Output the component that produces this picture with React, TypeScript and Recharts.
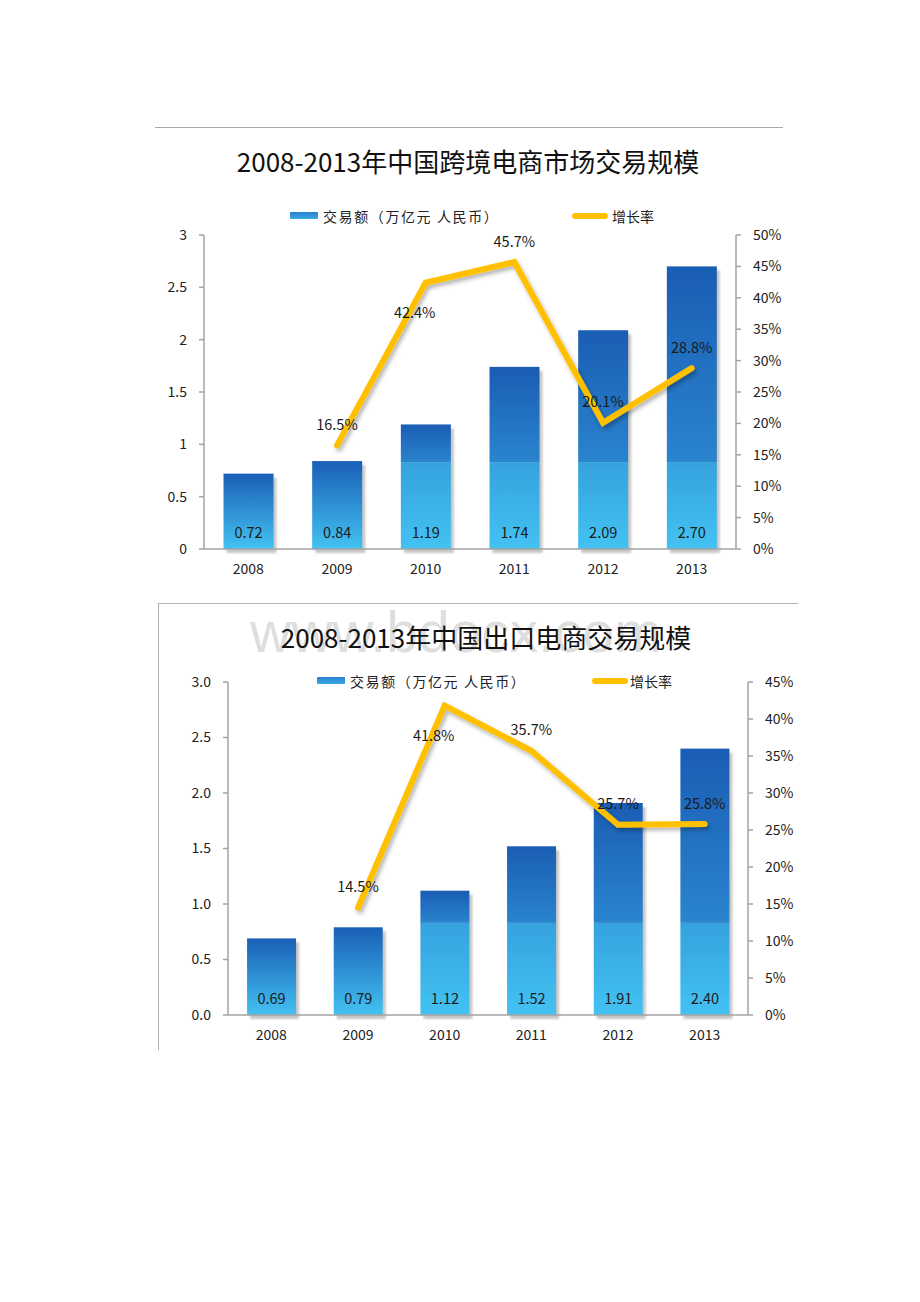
import { ComposedChart, Bar, Line, XAxis, YAxis, LabelList } from "recharts";

const FONT = '"Noto Sans CJK SC", "Noto Sans", sans-serif';
const AXIS_GRAY = "#a3a3a3";
const LINE_YELLOW = "#FFC000";

// shared categories
const years = ["2008", "2009", "2010", "2011", "2012", "2013"];

// chart 1: cross-border e-commerce
const crossBorderAmount = [0.72, 0.84, 1.19, 1.74, 2.09, 2.7];
const crossBorderRate = [null, 16.5, 42.4, 45.7, 20.1, 28.8];
const crossBorderAmountTicks = [0, 0.5, 1, 1.5, 2, 2.5, 3];
const crossBorderRateTicks = [0, 5, 10, 15, 20, 25, 30, 35, 40, 45, 50];

// chart 2: export e-commerce
const exportAmount = [0.69, 0.79, 1.12, 1.52, 1.91, 2.4];
const exportRate = [null, 14.5, 41.8, 35.7, 25.7, 25.8];
const exportAmountTicks = [0, 0.5, 1, 1.5, 2, 2.5, 3];
const exportRateTicks = [0, 5, 10, 15, 20, 25, 30, 35, 40, 45];

const amountLegend = "交易额（万亿元 人民币）";
const rateLegend = "增长率";

// excel picture fill leaves a seam at this height on the taller bars
const BAR_SEAM = 0.83;

function buildRows(amount: number[], rate: (number | null)[]) {
  return years.map((year, i) => ({ year, amount: amount[i], rate: rate[i] }));
}

function GlassBar(props: any) {
  const { x, y, width, height, payload, uid } = props;
  if (!height || height <= 0) return null;
  const base = y + height;
  const pxPerUnit = height / payload.amount;
  const seamY = base - BAR_SEAM * pxPerUnit;
  const split = payload.amount > BAR_SEAM + 0.03;
  return (
    <g>
      <rect
        x={x + 3}
        y={y + 4}
        width={width}
        height={height}
        fill="#000"
        opacity={0.22}
        filter={`url(#${uid}-barShadow)`}
      />
      {split ? (
        <>
          <rect x={x} y={y} width={width} height={seamY - y} fill={`url(#${uid}-barTop)`} />
          <rect x={x} y={seamY} width={width} height={base - seamY} fill={`url(#${uid}-barLow)`} />
        </>
      ) : (
        <rect x={x} y={y} width={width} height={height} fill={`url(#${uid}-barFull)`} />
      )}
    </g>
  );
}

function AmountLabel(props: any) {
  const { x, y, width, height, value } = props;
  if (value == null) return null;
  return (
    <text
      x={x + width / 2}
      y={y + height - 18}
      textAnchor="middle"
      dominantBaseline="central"
      fontSize={14.5}
      fill="#1a1a1a"
      fontFamily={FONT}
    >
      {Number(value).toFixed(2)}
    </text>
  );
}

function makeRateLabel(belowIndex: number) {
  return (props: any) => {
    const { x, y, value, index } = props;
    if (value == null) return null;
    const below = index === belowIndex;
    return (
      <text
        x={below ? x - 11 : x}
        y={below ? y + 29 : y - 22}
        textAnchor="middle"
        dominantBaseline="central"
        fontSize={14.5}
        fill="#1a1a1a"
        fontFamily={FONT}
      >
        {value}%
      </text>
    );
  };
}

interface PanelProps {
  uid: string;
  rows: any[];
  left: number;
  top: number;
  width: number;
  height: number;
  marginTop: number;
  leftAxisWidth: number;
  rightAxisWidth: number;
  amountTicks: number[];
  rateTicks: number[];
  amountFmt: (v: number) => string;
  labelBelowIndex: number;
}

function Panel({
  uid,
  rows,
  left,
  top,
  width,
  height,
  marginTop,
  leftAxisWidth,
  rightAxisWidth,
  amountTicks,
  rateTicks,
  amountFmt,
  labelBelowIndex,
}: PanelProps) {
  const tickStyle = { fill: "#222", fontSize: 14, fontFamily: FONT };
  return (
    <div style={{ position: "absolute", left, top }}>
      <ComposedChart
        width={width}
        height={height}
        data={rows}
        margin={{ top: marginTop, right: 0, bottom: 0, left: 0 }}
        barCategoryGap="22%"
        style={{ fontFamily: FONT }}
      >
        <defs>
          <linearGradient id={`${uid}-barFull`} x1="0" y1="0" x2="0" y2="1">
            <stop offset="0%" stopColor="#1a5fb6" />
            <stop offset="100%" stopColor="#43c2f2" />
          </linearGradient>
          <linearGradient id={`${uid}-barTop`} x1="0" y1="0" x2="0" y2="1">
            <stop offset="0%" stopColor="#1a5db4" />
            <stop offset="100%" stopColor="#2a84ce" />
          </linearGradient>
          <linearGradient id={`${uid}-barLow`} x1="0" y1="0" x2="0" y2="1">
            <stop offset="0%" stopColor="#35a2de" />
            <stop offset="100%" stopColor="#43c2f2" />
          </linearGradient>
          <filter id={`${uid}-barShadow`} x="-20%" y="-20%" width="140%" height="140%">
            <feGaussianBlur stdDeviation="1.2" />
          </filter>
          <filter id={`${uid}-lineShadow`} x="-10%" y="-10%" width="130%" height="130%">
            <feDropShadow dx="2" dy="3" stdDeviation="2" floodColor="#000" floodOpacity="0.3" />
          </filter>
        </defs>

        <XAxis
          dataKey="year"
          xAxisId={0}
          height={30}
          tickLine={false}
          tickSize={0}
          tickMargin={15}
          axisLine={{ stroke: AXIS_GRAY, strokeWidth: 1.5 }}
          tick={tickStyle}
        />
        <YAxis
          yAxisId="amount"
          width={leftAxisWidth}
          domain={[amountTicks[0], amountTicks[amountTicks.length - 1]]}
          ticks={amountTicks}
          interval={0}
          tickFormatter={amountFmt}
          tickSize={5}
          tickMargin={12}
          axisLine={{ stroke: AXIS_GRAY, strokeWidth: 1.5 }}
          tickLine={{ stroke: AXIS_GRAY, strokeWidth: 1.5 }}
          tick={tickStyle}
        />
        <YAxis
          yAxisId="rate"
          orientation="right"
          width={rightAxisWidth}
          domain={[rateTicks[0], rateTicks[rateTicks.length - 1]]}
          ticks={rateTicks}
          interval={0}
          tickFormatter={(v: number) => `${v}%`}
          tickSize={5}
          tickMargin={12}
          axisLine={{ stroke: AXIS_GRAY, strokeWidth: 1.5 }}
          tickLine={{ stroke: AXIS_GRAY, strokeWidth: 1.5 }}
          tick={{ ...tickStyle, textAnchor: "start" }}
        />

        <Bar
          yAxisId="amount"
          dataKey="amount"
          isAnimationActive={false}
          shape={(p: any) => <GlassBar {...p} uid={uid} />}
        >
          <LabelList dataKey="amount" content={AmountLabel} />
        </Bar>
        <Line
          yAxisId="rate"
          dataKey="rate"
          type="linear"
          stroke={LINE_YELLOW}
          strokeWidth={6}
          strokeLinecap="round"
          dot={false}
          activeDot={false}
          isAnimationActive={false}
          filter={`url(#${uid}-lineShadow)`}
        >
          <LabelList dataKey="rate" content={makeRateLabel(labelBelowIndex)} />
        </Line>
      </ComposedChart>
    </div>
  );
}

function Title({ text, cx, cy }: { text: string; cx: number; cy: number }) {
  return (
    <div
      style={{
        position: "absolute",
        left: cx - 320,
        top: cy - 20,
        width: 640,
        lineHeight: "40px",
        textAlign: "center",
        fontSize: 26,
        color: "#111",
        fontFamily: FONT,
        whiteSpace: "nowrap",
      }}
    >
      {text}
    </div>
  );
}

function LegendRow({ cy, blueX, blueTextX, yellowX, yellowTextX }: any) {
  const text = {
    position: "absolute" as const,
    top: cy - 10,
    lineHeight: "20px",
    fontSize: 14,
    color: "#222",
    fontFamily: FONT,
    whiteSpace: "nowrap" as const,
  };
  return (
    <>
      <div
        style={{
          position: "absolute",
          left: blueX,
          top: cy - 4,
          width: 28,
          height: 7,
          background: "linear-gradient(#2a7fd0, #3aa9e6)",
          borderRadius: 1,
        }}
      />
      <div style={{ ...text, left: blueTextX, letterSpacing: 1.6 }}>{amountLegend}</div>
      <div
        style={{
          position: "absolute",
          left: yellowX,
          top: cy - 3,
          width: 36,
          height: 6,
          background: LINE_YELLOW,
          borderRadius: 3,
        }}
      />
      <div style={{ ...text, left: yellowTextX }}>{rateLegend}</div>
    </>
  );
}

export default function App() {
  const fmtPlain = (v: number) => String(v);
  const fmtOne = (v: number) => v.toFixed(1);
  return (
    <div
      style={{
        position: "absolute",
        left: 0,
        top: 0,
        width: 920,
        height: 1302,
        background: "#fff",
        overflow: "hidden",
      }}
    >
      {/* chart 1 */}
      <div style={{ position: "absolute", left: 155, top: 127, width: 628, borderTop: "1.5px solid #a8a8a8" }} />
      <Title text="2008-2013年中国跨境电商市场交易规模" cx={468} cy={161} />
      <LegendRow cy={216} blueX={290} blueTextX={323} yellowX={572} yellowTextX={612} />
      <Panel
        uid="c1"
        rows={buildRows(crossBorderAmount, crossBorderRate)}
        left={155}
        top={190}
        width={630}
        height={389}
        marginTop={45}
        leftAxisWidth={49}
        rightAxisWidth={49}
        amountTicks={crossBorderAmountTicks}
        rateTicks={crossBorderRateTicks}
        amountFmt={fmtPlain}
        labelBelowIndex={2}
      />

      {/* chart 2 */}
      <div style={{ position: "absolute", left: 158, top: 603, width: 640, borderTop: "1.5px solid #b0b0b0" }} />
      <div style={{ position: "absolute", left: 158, top: 603, height: 447, borderLeft: "1.5px solid #b0b0b0" }} />
      <div
        style={{
          position: "absolute",
          left: 250,
          top: 597,
          fontSize: 57,
          lineHeight: "70px",
          color: "#dedede",
          fontFamily: '"Liberation Sans", Arial, sans-serif',
          whiteSpace: "nowrap",
        }}
      >
        www.bdocx.com
      </div>
      <Title text="2008-2013年中国出口电商交易规模" cx={486} cy={637} />
      <LegendRow cy={681} blueX={317} blueTextX={350} yellowX={592} yellowTextX={630} />
      <Panel
        uid="c2"
        rows={buildRows(exportAmount, exportRate)}
        left={160}
        top={650}
        width={640}
        height={395}
        marginTop={32}
        leftAxisWidth={68}
        rightAxisWidth={52}
        amountTicks={exportAmountTicks}
        rateTicks={exportRateTicks}
        amountFmt={fmtOne}
        labelBelowIndex={2}
      />
    </div>
  );
}
